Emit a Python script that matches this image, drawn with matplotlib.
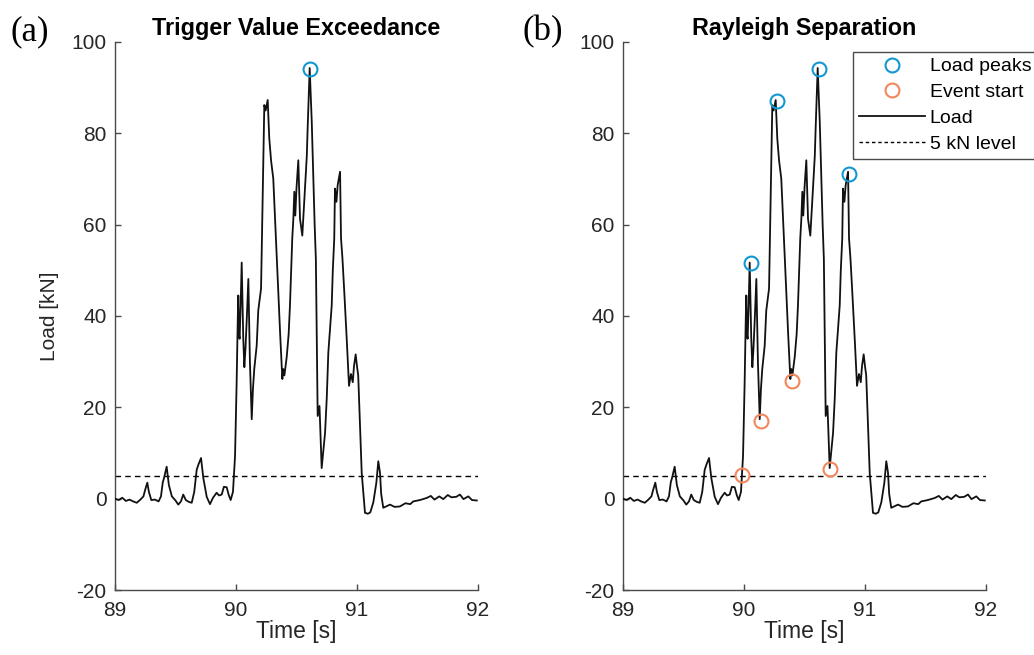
import matplotlib
matplotlib.use("Agg")
import matplotlib.pyplot as plt
from matplotlib.lines import Line2D

plt.rcParams["font.family"] = ["Liberation Sans", "DejaVu Sans"]
plt.rcParams["axes.unicode_minus"] = False

# load signal in three pieces
t_pre = [89.00, 89.03, 89.06, 89.09, 89.12, 89.15, 89.18, 89.21, 89.235, 89.25,
         89.267, 89.28, 89.30, 89.33, 89.36, 89.38, 89.395, 89.405, 89.427, 89.445,
         89.47, 89.50, 89.523, 89.545, 89.564, 89.585, 89.61, 89.634, 89.655, 89.675,
         89.69, 89.711, 89.73, 89.758, 89.785, 89.81, 89.84, 89.86, 89.882, 89.90,
         89.923, 89.94, 89.956, 89.975]
load_pre = [0.0, -0.3, 0.2, -0.5, -0.2, -0.6, -0.9, -0.2, 0.5, 2.0,
            3.5, 1.5, -0.3, -0.2, -0.6, 0.5, 3.6, 4.5, 7.0, 3.0,
            0.5, -0.4, -1.3, -0.6, 0.9, -0.3, -0.7, -0.9, 1.5, 6.3,
            7.5, 8.9, 4.5, 0.4, -1.2, 0.2, 1.3, 0.7, 0.9, 2.6,
            2.5, 0.8, -0.3, 1.5]

t_event = [89.992, 90.005, 90.015, 90.019, 90.025, 90.03, 90.038, 90.047, 90.06, 90.069,
           90.078, 90.09, 90.102, 90.115, 90.130, 90.14, 90.151, 90.171, 90.184, 90.207,
           90.22, 90.234, 90.245, 90.262, 90.275, 90.29, 90.308, 90.315, 90.33, 90.35,
           90.365, 90.383, 90.39, 90.40, 90.419, 90.435, 90.446, 90.465, 90.474, 90.482,
           90.49, 90.50, 90.515, 90.529, 90.548, 90.56, 90.57, 90.585, 90.593, 90.609,
           90.618, 90.626, 90.639, 90.65, 90.66, 90.675, 90.69, 90.708, 90.72, 90.736,
           90.75, 90.763, 90.791, 90.80, 90.812, 90.818, 90.83, 90.84, 90.86, 90.868,
           90.88, 90.895, 90.915, 90.934, 90.95, 90.965, 90.975, 90.989, 91.00, 91.01,
           91.039]
load_event = [9.3, 25.0, 40.0, 44.5, 36.0, 35.0, 42.0, 51.7, 35.0, 28.8,
              32.7, 40.0, 48.1, 30.0, 17.4, 24.0, 28.4, 33.5, 41.2, 46.0,
              65.0, 86.2, 85.0, 87.3, 78.9, 74.0, 70.1, 66.0, 57.0, 45.0,
              36.0, 26.2, 28.4, 27.0, 31.0, 36.0, 42.3, 57.0, 61.3, 67.2,
              62.0, 68.0, 74.1, 61.3, 57.6, 63.0, 67.9, 75.0, 81.8, 94.3,
              88.0, 82.6, 70.0, 60.0, 52.5, 18.1, 20.3, 6.7, 10.0, 14.4,
              22.0, 32.0, 42.3, 50.0, 57.0, 67.9, 65.0, 68.6, 71.6, 57.0,
              52.5, 45.2, 35.0, 24.7, 27.3, 25.5, 29.0, 31.6, 29.0, 27.0,
              5.6]

t_post = [91.066, 91.09, 91.11, 91.135, 91.16, 91.176, 91.19, 91.20, 91.217, 91.25,
          91.273, 91.31, 91.355, 91.40, 91.44, 91.465, 91.52, 91.576, 91.61, 91.64,
          91.68, 91.713, 91.75, 91.78, 91.82, 91.851, 91.88, 91.92, 91.95, 91.99]
load_post = [-3.1, -3.3, -3.0, -0.8, 3.5, 8.2, 5.7, 1.0, -2.0, -1.6,
             -1.3, -1.8, -1.7, -1.0, -1.2, -0.6, -0.3, 0.15, 0.6, -0.2,
             0.5, -0.1, 0.8, 0.3, 0.4, 0.9, -0.1, 0.5, -0.3, -0.4]

# detected points
max_peak_t = [90.611]
max_peak_load = [94.0]
peaks_t = [90.055, 90.275, 90.617, 90.87]
peaks_load = [51.6, 87.1, 94.0, 71.1]
starts_t = [89.983, 90.14, 90.397, 90.71]
starts_load = [5.1, 17.0, 25.7, 6.5]

level = 5.0
titles = ["Trigger Value Exceedance", "Rayleigh Separation"]
panel_tags = ["(a)", "(b)"]

t_all = t_pre + t_event + t_post
load_all = load_pre + load_event + load_post

BLUE = "#1297d4"
ORANGE = "#f2875c"
AX_COL = "#4a4a4a"
TXT = "#262626"

fig = plt.figure(figsize=(10.34, 6.55), dpi=100)
W, H = 1034, 655
ax_a = fig.add_axes([115 / W, 1 - 590 / H, 363 / W, 548 / H])
ax_b = fig.add_axes([623 / W, 1 - 590 / H, 363 / W, 548 / H])

for ax in (ax_a, ax_b):
    ax.plot(t_all, load_all, color="#111111", lw=1.3, label="Load", zorder=3)
    ax.axhline(level, color="black", lw=1.0, ls=(0, (4, 3)), zorder=2)
    ax.set_xlim(89, 92)
    ax.set_ylim(-20, 100)
    ax.set_xticks([89, 90, 91, 92])
    ax.set_yticks([-20, 0, 20, 40, 60, 80, 100])
    ax.spines["top"].set_visible(False)
    ax.spines["right"].set_visible(False)
    for s in ("left", "bottom"):
        ax.spines[s].set_color(AX_COL)
        ax.spines[s].set_linewidth(1.0)
    ax.tick_params(direction="in", length=4, width=1.0, color=AX_COL,
                   labelsize=15, labelcolor=TXT)
    ax.tick_params(axis="x", pad=8)
    ax.tick_params(axis="y", pad=6)
    ax.set_xlabel("Time [s]", fontsize=16.5, color=TXT, labelpad=0)

ax_a.set_ylabel("Load [kN]", fontsize=15, color=TXT, labelpad=9)

ax_a.plot(max_peak_t, max_peak_load, "o", ms=10, mfc="none", mec=BLUE, mew=1.5, zorder=4)
ax_b.plot(peaks_t, peaks_load, "o", ms=10, mfc="none", mec=BLUE, mew=1.5, zorder=4)
ax_b.plot(starts_t, starts_load, "o", ms=10, mfc="none", mec=ORANGE, mew=1.5, zorder=4)

for ax, title in zip((ax_a, ax_b), titles):
    ax.text(0.5, 1.012, title, transform=ax.transAxes, ha="center", va="baseline",
            fontsize=16.8, fontweight="bold")

fig.text(10 / W, 1 - 40 / H, panel_tags[0], family=["Liberation Serif", "DejaVu Serif"],
         fontsize=25, va="baseline")
fig.text(523 / W, 1 - 40 / H, panel_tags[1], family=["Liberation Serif", "DejaVu Serif"],
         fontsize=25, va="baseline")

handles = [
    Line2D([], [], ls="none", marker="o", ms=10, mfc="none", mec=BLUE, mew=1.5),
    Line2D([], [], ls="none", marker="o", ms=10, mfc="none", mec=ORANGE, mew=1.5),
    Line2D([], [], color="#111111", lw=1.3),
    Line2D([], [], color="black", lw=1.0, ls=(0, (2.5, 2))),
]
labels = ["Load peaks", "Event start", "Load", "5 kN level"]
leg = fig.legend(handles, labels, loc="upper left",
                 bbox_to_anchor=(853 / W, 1 - 52 / H), fontsize=14,
                 frameon=True, fancybox=False, framealpha=1,
                 handlelength=3.4, handletextpad=0.25, labelspacing=0.42,
                 borderpad=0.3, borderaxespad=0)
leg.get_frame().set_edgecolor(AX_COL)
leg.get_frame().set_linewidth(1.0)

fig.savefig("out.png", dpi=100)
